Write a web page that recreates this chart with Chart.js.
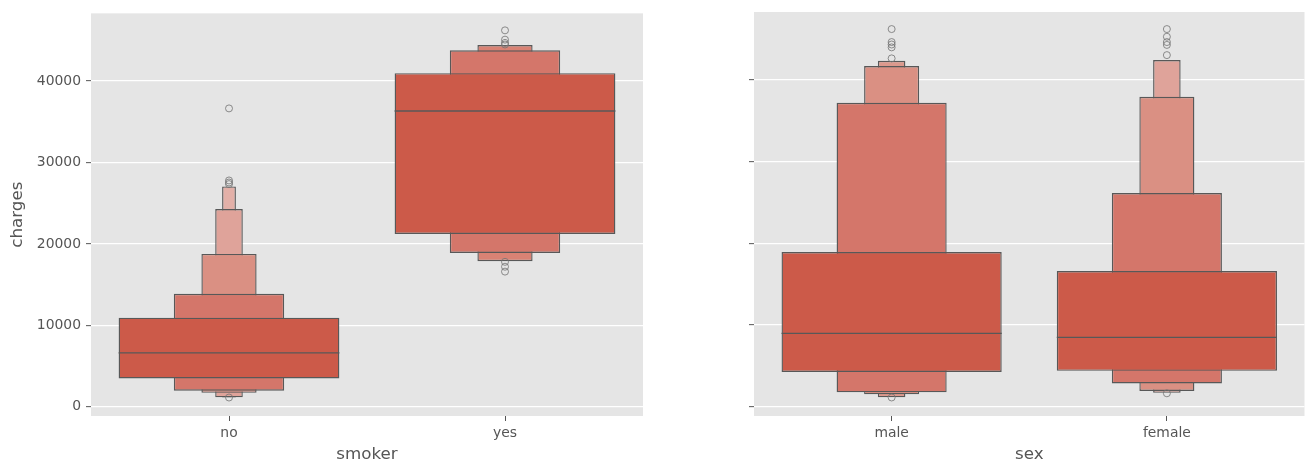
<!DOCTYPE html>
<html>
<head>
<meta charset="utf-8">
<script src="https://cdn.jsdelivr.net/npm/chart.js@4.4.1/dist/chart.umd.min.js"></script>
<style>
  html, body { margin: 0; padding: 0; background: #ffffff; }
  #wrap { position: relative; width: 1309px; height: 463px; overflow: hidden; }
  canvas { position: absolute; top: 0; }
  #smokerChart { left: 0; }
  #sexChart { left: 650px; }
</style>
</head>
<body>
<div id="wrap">
  <canvas id="smokerChart" width="650" height="463"></canvas>
  <canvas id="sexChart" width="659" height="463"></canvas>
</div>
<script>
// ---- data ----
const yTicks = [0, 10000, 20000, 30000, 40000];
const yRange = [-1139, 48330];

const smokerCategories = ['no', 'yes'];
const sexCategories = ['male', 'female'];

// letter-value boxes, from the quartile box outwards: [lower, upper]
const noLevels = [[3473, 10941], [1963, 13880], [1714, 18777], [1150, 24286], [1130, 27060]];
const yesLevels = [[21225, 40977], [18900, 43793], [17880, 44443]];
const maleLevels = [[4248, 18940], [1763, 37220], [1518, 41712], [1150, 42360]];
const femaleLevels = [[4390, 16613], [2840, 26163], [1920, 37950], [1700, 42450]];

const smokerMedians = [6615, 36325];
const sexMedians = [8982, 8494];

const noOutliers = [36650, 27800, 27550, 27350, 1130];
const yesOutliers = [46240, 45100, 44700, 44500, 17800, 17200, 16600];
const maleOutliers = [46240, 44650, 44350, 44000, 42650, 1130];
const femaleOutliers = [46240, 45300, 44650, 44300, 43050, 1640];

// ---- styles ----
const shades = {
  no: ['#cc5a49', '#d4766a', '#da9083', '#dfa39a', '#e3b0a8'],
  yes: ['#cc5a49', '#d4766a', '#d98274'],
  male: ['#cc5a49', '#d4766a', '#da9083', '#dc998d'],
  female: ['#cc5a49', '#d4766a', '#da9083', '#dfa39a']
};
const EDGE = '#585858';
const TEXT = '#555555';
const FONT = 'DejaVu Sans';
Chart.defaults.font.family = FONT;

function buildChart(canvasId, categories, levelSets, medians, outlierSets, cfg) {
  const maxLevels = Math.max(...levelSets.map(l => l.length));
  const datasets = [];
  for (let k = 0; k < maxLevels; k++) {
    datasets.push({
      type: 'bar',
      data: levelSets.map(l => (l[k] ? l[k] : null)),
      backgroundColor: categories.map(c => shades[c][k] || 'rgba(0,0,0,0)'),
      borderColor: EDGE,
      borderWidth: 1.4,
      borderSkipped: false,
      grouped: false,
      categoryPercentage: 0.8,
      barPercentage: 1 / Math.pow(2, k),
      order: k + 1
    });
  }
  const points = [];
  categories.forEach((c, i) => outlierSets[i].forEach(v => points.push({ x: c, y: v })));
  datasets.push({
    type: 'line',
    data: points,
    showLine: false,
    pointRadius: 3.5,
    pointHoverRadius: 3.5,
    pointBorderWidth: 1,
    pointBackgroundColor: 'rgba(0,0,0,0)',
    pointBorderColor: 'rgba(115,115,115,0.8)',
    order: 0
  });

  const plotBackground = {
    id: 'plotBackground',
    beforeDraw(chart) {
      const a = chart.chartArea, ctx = chart.ctx;
      ctx.save();
      ctx.fillStyle = '#e5e5e5';
      ctx.fillRect(a.left, a.top, a.right - a.left, a.bottom - a.top);
      ctx.restore();
    }
  };
  const medianLines = {
    id: 'medianLines',
    afterDatasetsDraw(chart) {
      const meta = chart.getDatasetMeta(0);
      const yScale = chart.scales.y, ctx = chart.ctx;
      ctx.save();
      ctx.strokeStyle = EDGE;
      ctx.lineWidth = 1.4;
      medians.forEach((m, i) => {
        const el = meta.data[i];
        if (!el) return;
        const py = yScale.getPixelForValue(m);
        ctx.beginPath();
        ctx.moveTo(el.x - el.width / 2, py);
        ctx.lineTo(el.x + el.width / 2, py);
        ctx.stroke();
      });
      ctx.restore();
    }
  };

  return new Chart(document.getElementById(canvasId), {
    type: 'bar',
    data: { labels: categories, datasets },
    plugins: [plotBackground, medianLines],
    options: {
      responsive: false,
      animation: false,
      events: [],
      layout: { padding: { top: 12, right: cfg.padRight, left: 0, bottom: 0 } },
      plugins: { legend: { display: false }, tooltip: { enabled: false } },
      scales: {
        x: {
          type: 'category',
          offset: true,
          grid: { offset: false, drawOnChartArea: false, drawTicks: true, tickLength: 5, tickColor: TEXT, tickWidth: 1 },
          border: { display: false },
          ticks: { color: TEXT, font: { size: 13.9 }, padding: 4 },
          title: { display: true, text: cfg.xTitle, color: TEXT, font: { size: 16.7, lineHeight: 1 }, padding: 0 },
          afterFit(s) { s.height = 47; }
        },
        y: {
          type: 'linear',
          min: yRange[0],
          max: yRange[1],
          afterBuildTicks(s) { s.ticks = yTicks.map(v => ({ value: v })); },
          grid: { color: '#ffffff', lineWidth: 1.3, drawTicks: true, tickLength: 5, tickColor: TEXT, tickWidth: 1 },
          border: { display: false },
          ticks: { display: cfg.showYLabels, color: TEXT, font: { size: 13.9 }, padding: 5, callback: v => String(v) },
          title: { display: !!cfg.yTitle, text: cfg.yTitle || '', color: TEXT, font: { size: 16.7, lineHeight: 1 }, padding: { top: 9, bottom: 0 } },
          afterFit(s) { s.width = cfg.axisWidth; }
        }
      }
    }
  });
}

buildChart('smokerChart', smokerCategories, [noLevels, yesLevels], smokerMedians, [noOutliers, yesOutliers],
  { axisWidth: 91, padRight: 7, xTitle: 'smoker', yTitle: 'charges', showYLabels: true });
buildChart('sexChart', sexCategories, [maleLevels, femaleLevels], sexMedians, [maleOutliers, femaleOutliers],
  { axisWidth: 104, padRight: 4, xTitle: 'sex', yTitle: '', showYLabels: false });
</script>
</body>
</html>
